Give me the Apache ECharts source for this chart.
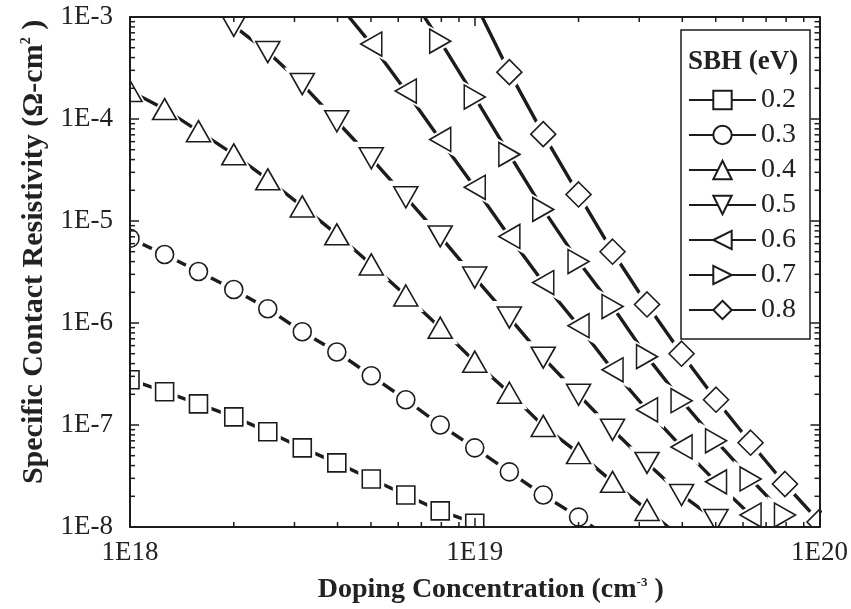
<!DOCTYPE html>
<html>
<head>
<meta charset="utf-8">
<script src="https://cdn.jsdelivr.net/npm/echarts@6/dist/echarts.min.js"></script>
<style>
  html, body { margin: 0; padding: 0; background: #fff; }
  #chart { width: 851px; height: 609px; }
</style>
</head>
<body>
<div id="chart"></div>
<script>
// Doping concentration (cm^-3), ten points per decade
const doping = [
  1.00e18, 1.26e18, 1.58e18, 2.00e18, 2.51e18, 3.16e18, 3.98e18, 5.01e18, 6.31e18, 7.94e18,
  1.00e19, 1.26e19, 1.58e19, 2.00e19, 2.51e19, 3.16e19, 3.98e19, 5.01e19, 6.31e19, 7.94e19,
  1.00e20
];

// Specific contact resistivity (Ohm-cm^2) for each Schottky barrier height
const sbh02 = [2.78e-7, 2.12e-7, 1.61e-7, 1.20e-7, 8.6e-8, 5.97e-8, 4.25e-8, 2.96e-8, 2.06e-8, 1.44e-8,
  1.09e-8, null, null, null, null, null, null, null, null, null, null];
const sbh03 = [6.75e-6, 4.70e-6, 3.20e-6, 2.13e-6, 1.38e-6, 8.2e-7, 5.2e-7, 3.04e-7, 1.77e-7, 1.00e-7,
  5.97e-8, 3.47e-8, 2.06e-8, 1.25e-8, 7.4e-9, null, null, null, null, null, null];
const sbh04 = [1.88e-4, 1.25e-4, 7.6e-5, 4.5e-5, 2.56e-5, 1.39e-5, 7.4e-6, 3.75e-6, 1.86e-6, 9.0e-7,
  4.18e-7, 2.07e-7, 9.8e-8, 5.3e-8, 2.77e-8, 1.47e-8, 7.8e-9, null, null, null, null];
const sbh05 = [null, null, null, 8.2e-4, 4.53e-4, 2.2e-4, 9.5e-5, 4.12e-5, 1.71e-5, 7.06e-6,
  2.79e-6, 1.13e-6, 4.57e-7, 1.98e-7, 8.97e-8, 4.25e-8, 2.06e-8, 1.17e-8, null, null, null];
const sbh06 = [null, null, null, null, null, null, 1.4e-3, 5.43e-4, 1.88e-4, 6.3e-5,
  2.14e-5, 7.06e-6, 2.49e-6, 9.4e-7, 3.48e-7, 1.41e-7, 6.1e-8, 2.77e-8, 1.31e-8, null, null];
const sbh07 = [null, null, null, null, null, null, null, null, 1.9e-3, 5.8e-4,
  1.64e-4, 4.5e-5, 1.30e-5, 4.0e-6, 1.45e-6, 4.68e-7, 1.73e-7, 7.0e-8, 2.96e-8, 1.31e-8, null];
const sbh08 = [null, null, null, null, null, null, null, null, null, null,
  1.4e-3, 2.88e-4, 7.1e-5, 1.82e-5, 5.0e-6, 1.52e-6, 5.0e-7, 1.77e-7, 6.7e-8, 2.64e-8, 1.12e-8];

const seriesNames = ['0.2', '0.3', '0.4', '0.5', '0.6', '0.7', '0.8'];
const seriesValues = [sbh02, sbh03, sbh04, sbh05, sbh06, sbh07, sbh08];

// Axis ranges and tick labels
const xRange = [1e18, 1e20];
const yRange = [1e-8, 1e-3];
const xTickLabels = ['1E18', '1E19', '1E20'];
const yTickLabels = ['1E-8', '1E-7', '1E-6', '1E-5', '1E-4', '1E-3'];
const xDecades = [1e18, 1e19];
const yDecades = [1e-8, 1e-7, 1e-6, 1e-5, 1e-4];
const minorMultipliers = [2, 3, 4, 5, 6, 7, 8, 9];

// Marker shapes: hollow square, circle and triangles pointing up/down/left/right, diamond.
// 'gap' is how much wider the white knock-out behind each marker is.
const markerStyles = [
  { symbol: 'rect', size: 18, rotate: 0, gap: 8 },
  { symbol: 'circle', size: 18, rotate: 0, gap: 10 },
  { symbol: 'triangle', size: [24, 21], rotate: 0, gap: 12 },
  { symbol: 'triangle', size: [24, 21], rotate: 180, gap: 12 },
  { symbol: 'triangle', size: [24, 21], rotate: 90, gap: 13 },
  { symbol: 'triangle', size: [24, 21], rotate: -90, gap: 13 },
  { symbol: 'diamond', size: 25, rotate: 0, gap: 14 }
];

const FONT = 'Liberation Serif';
const INK = '#1c1c1c';
const GRID = { left: 130, top: 17, right: 851 - 822, bottom: 609 - 527 };

const minorX = [];
xDecades.forEach(d => minorMultipliers.forEach(m => minorX.push(d * m)));
const minorY = [];
yDecades.forEach(d => minorMultipliers.forEach(m => minorY.push(d * m)));

function pairs(vals) {
  return doping.map((x, i) => [x, vals[i]]).filter(p => p[1] !== null);
}
function grow(size, d) {
  return Array.isArray(size) ? [size[0] + d, size[1] + d] : size + d;
}

const series = [];
seriesValues.forEach((vals, i) => {
  const m = markerStyles[i];
  // connecting line (also provides the legend entry)
  series.push({
    name: seriesNames[i], type: 'line', data: pairs(vals),
    symbol: m.symbol, symbolRotate: m.rotate, showSymbol: false,
    lineStyle: { color: INK, width: 3.4, type: 'solid' },
    itemStyle: { color: '#fff', borderColor: INK, borderWidth: 1.6 },
    z: 2, silent: true
  });
  // white knock-out around each marker so the line stops short of it
  series.push({
    name: 'gap' + i, type: 'scatter', data: pairs(vals),
    symbol: m.symbol, symbolRotate: m.rotate, symbolSize: grow(m.size, m.gap),
    itemStyle: { color: '#fff', borderWidth: 0, opacity: 1 },
    z: 3, silent: true
  });
  // hollow markers
  series.push({
    name: 'mk' + i, type: 'scatter', data: pairs(vals),
    symbol: m.symbol, symbolRotate: m.rotate, symbolSize: m.size,
    itemStyle: { color: '#fff', borderColor: INK, borderWidth: 1.6, opacity: 1 },
    z: 4, silent: true
  });
});

const MINOR_LEN = 5;
const tickStyle = { stroke: INK, lineWidth: 1.5 };
series.push({
  type: 'custom', silent: true, z: 6, clip: false,
  data: minorX.map(v => [v, yRange[0]]),
  renderItem(params, api) {
    const v = api.value(0);
    const b = api.coord([v, yRange[0]]);
    const t = api.coord([v, yRange[1]]);
    return { type: 'group', children: [
      { type: 'line', shape: { x1: b[0], y1: b[1], x2: b[0], y2: b[1] - MINOR_LEN }, style: tickStyle },
      { type: 'line', shape: { x1: t[0], y1: t[1], x2: t[0], y2: t[1] + MINOR_LEN }, style: tickStyle }
    ] };
  }
});
series.push({
  type: 'custom', silent: true, z: 6, clip: false,
  data: minorY.map(v => [xRange[0], v]),
  renderItem(params, api) {
    const v = api.value(1);
    const l = api.coord([xRange[0], v]);
    const r = api.coord([xRange[1], v]);
    return { type: 'group', children: [
      { type: 'line', shape: { x1: l[0], y1: l[1], x2: l[0] + MINOR_LEN, y2: l[1] }, style: tickStyle },
      { type: 'line', shape: { x1: r[0], y1: r[1], x2: r[0] - MINOR_LEN, y2: r[1] }, style: tickStyle }
    ] };
  }
});

const axisLine = { show: true, lineStyle: { color: INK, width: 2 } };
const axisTick = { show: true, inside: true, length: 9, lineStyle: { color: INK, width: 1.5 } };
const xNameRich = {
  t: { fontFamily: FONT, fontWeight: 'bold', fontSize: 28, color: '#222' },
  s: { fontFamily: FONT, fontWeight: 'bold', fontSize: 13, color: '#222', verticalAlign: 'top' }
};
const yNameRich = {
  t: { fontFamily: FONT, fontWeight: 'bold', fontSize: 30, color: '#222' },
  s: { fontFamily: FONT, fontWeight: 'bold', fontSize: 14, color: '#222', verticalAlign: 'top' }
};

const option = {
  backgroundColor: '#fff',
  animation: false,
  grid: GRID,
  title: {
    text: 'SBH (eV)', left: 683, top: 44,
    textStyle: { fontFamily: FONT, fontWeight: 'bold', fontSize: 27, color: '#222' },
    z: 12
  },
  legend: {
    orient: 'vertical', left: 681, top: 30, data: seriesNames,
    itemWidth: 67, itemHeight: 23, itemGap: 7,
    padding: [56, 14, 15, 7],
    borderColor: INK, borderWidth: 1.5, backgroundColor: '#fff',
    textStyle: { fontFamily: FONT, fontSize: 28, color: '#222' },
    selectedMode: false, z: 11
  },
  graphic: [
    { type: 'rect', shape: { x: 0, y: 0, width: 130, height: 609 }, style: { fill: '#fff' }, z: 5, silent: true },
    { type: 'rect', shape: { x: 822, y: 0, width: 29, height: 609 }, style: { fill: '#fff' }, z: 5, silent: true },
    { type: 'rect', shape: { x: 0, y: 0, width: 851, height: 17 }, style: { fill: '#fff' }, z: 5, silent: true },
    { type: 'rect', shape: { x: 0, y: 527, width: 851, height: 82 }, style: { fill: '#fff' }, z: 5, silent: true }
  ],
  xAxis: [
    {
      type: 'log', logBase: 10, min: xRange[0], max: xRange[1], position: 'bottom', z: 10,
      axisLine, axisTick, splitLine: { show: false },
      axisLabel: {
        margin: 12, fontFamily: FONT, fontSize: 27, color: '#222',
        formatter: v => xTickLabels[Math.round(Math.log10(v)) - 18]
      },
      name: '{t|Doping Concentration (cm}{s|-3}{t| )}',
      nameLocation: 'middle', nameGap: 49,
      nameTextStyle: { rich: xNameRich, padding: [0, 0, 0, 32] }
    },
    {
      type: 'log', logBase: 10, min: xRange[0], max: xRange[1], position: 'top', z: 10,
      axisLine, axisTick, splitLine: { show: false }, axisLabel: { show: false }
    }
  ],
  yAxis: [
    {
      type: 'log', logBase: 10, min: yRange[0], max: yRange[1], position: 'left', z: 10,
      axisLine, axisTick, splitLine: { show: false },
      axisLabel: {
        margin: 17, fontFamily: FONT, fontSize: 27, color: '#222',
        formatter: v => yTickLabels[Math.round(Math.log10(v)) + 8]
      },
      name: '{t|Specific Contact Resistivity (Ω-cm}{s|2}{t| )}',
      nameLocation: 'middle', nameGap: 80, nameRotate: 90,
      nameTextStyle: { rich: yNameRich, padding: [0, 0, 0, 40] }
    },
    {
      type: 'log', logBase: 10, min: yRange[0], max: yRange[1], position: 'right', z: 10,
      axisLine, axisTick, splitLine: { show: false }, axisLabel: { show: false }
    }
  ],
  series
};

const chart = echarts.init(document.getElementById('chart'), null, { renderer: 'canvas' });
chart.setOption(option);
</script>
</body>
</html>
